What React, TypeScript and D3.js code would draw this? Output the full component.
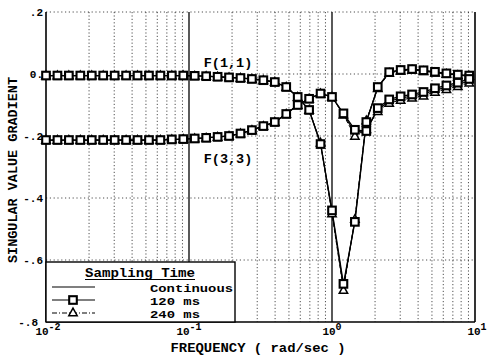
import React from 'react';
import * as d3 from 'd3';

const freq = [0.01, 0.01202, 0.01445, 0.01738, 0.02089, 0.02512, 0.0302, 0.03631, 0.04365, 0.05248,
  0.0631, 0.07586, 0.0912, 0.1096, 0.1318, 0.1585, 0.1905, 0.2291, 0.2754, 0.3311,
  0.3981, 0.4786, 0.5754, 0.6918, 0.8318, 1.0, 1.2023, 1.4454, 1.7378, 2.0893,
  2.5119, 3.02, 3.6308, 4.3652, 5.2481, 6.3096, 7.5858, 9.1201];

const f11Cont = [-0.005, -0.005, -0.005, -0.005, -0.005, -0.005, -0.005, -0.005, -0.005, -0.005,
  -0.005, -0.005, -0.005, -0.006, -0.007, -0.009, -0.011, -0.013, -0.016, -0.02,
  -0.026, -0.042, -0.074, -0.116, -0.224, -0.445, -0.687, -0.472, -0.152, -0.044,
  0.005, 0.012, 0.015, 0.011, 0.006, 0.001, -0.003, -0.006];
const f11Sq = [-0.005, -0.005, -0.005, -0.005, -0.005, -0.005, -0.005, -0.005, -0.005, -0.005,
  -0.005, -0.005, -0.005, -0.006, -0.007, -0.009, -0.011, -0.013, -0.016, -0.02,
  -0.026, -0.042, -0.074, -0.116, -0.226, -0.44, -0.677, -0.477, -0.155, -0.042,
  0.006, 0.013, 0.016, 0.012, 0.007, 0.002, -0.002, -0.005];
const f11Tri = [-0.005, -0.005, -0.005, -0.005, -0.005, -0.005, -0.005, -0.005, -0.005, -0.005,
  -0.005, -0.005, -0.005, -0.006, -0.007, -0.009, -0.011, -0.013, -0.016, -0.02,
  -0.026, -0.042, -0.074, -0.116, -0.222, -0.45, -0.697, -0.468, -0.15, -0.046,
  0.003, 0.01, 0.013, 0.009, 0.004, 0.0, -0.004, -0.007];

const f33Cont = [-0.213, -0.213, -0.213, -0.213, -0.213, -0.213, -0.213, -0.213, -0.213, -0.213,
  -0.213, -0.211, -0.21, -0.208, -0.206, -0.203, -0.2, -0.192, -0.181, -0.168,
  -0.155, -0.129, -0.1, -0.08, -0.063, -0.074, -0.129, -0.19, -0.18, -0.115,
  -0.088, -0.078, -0.071, -0.064, -0.052, -0.043, -0.034, -0.022];
const f33Sq = [-0.213, -0.213, -0.213, -0.213, -0.213, -0.213, -0.213, -0.213, -0.213, -0.213,
  -0.213, -0.211, -0.21, -0.208, -0.206, -0.203, -0.2, -0.192, -0.181, -0.168,
  -0.155, -0.129, -0.1, -0.08, -0.063, -0.074, -0.127, -0.18, -0.184, -0.11,
  -0.082, -0.072, -0.066, -0.058, -0.046, -0.037, -0.028, -0.016];
const f33Tri = [-0.213, -0.213, -0.213, -0.213, -0.213, -0.213, -0.213, -0.213, -0.213, -0.213,
  -0.213, -0.211, -0.21, -0.208, -0.206, -0.203, -0.2, -0.192, -0.181, -0.168,
  -0.155, -0.129, -0.1, -0.08, -0.063, -0.074, -0.132, -0.2, -0.178, -0.12,
  -0.094, -0.084, -0.077, -0.07, -0.058, -0.049, -0.04, -0.028];

const yTicks = [0.2, 0, -0.2, -0.4, -0.6, -0.8];
const yTickLabels = ['.2', '0.', '-.2', '-.4', '-.6', '-.8'];
const xDecades = [0.01, 0.1, 1, 10];
const xDecadeExp = ['-2', '-1', '0', '1'];
const legendLabels = ['Continuous', '120 ms', '240 ms'];
const legendTitle = 'Sampling Time';
const curveLabels = ['F(1,1)', 'F(3,3)'];
const xTitle = 'FREQUENCY ( rad/sec )';
const yTitle = 'SINGULAR VALUE GRADIENT';

const FONT = '"Liberation Mono", "DejaVu Sans Mono", monospace';

export default function App() {
  const W = 487, H = 357;
  const x = d3.scaleLog().domain([0.01, 10]).range([46, 475]);
  const y = d3.scaleLinear().domain([-0.8, 0.2]).range([322, 12]);
  const [x0, x1] = x.range();
  const [yb, yt] = y.range();

  const line = d3.line<number>().x((_, i) => x(freq[i])).y((d) => y(d));

  const minor: number[] = [];
  for (let e = -2; e < 1; e++) {
    for (let m = 2; m <= 9; m++) minor.push(m * Math.pow(10, e));
  }

  const sq = (cx: number, cy: number, k: string) => (
    <rect key={k} x={cx - 3.8} y={cy - 3.8} width={7.6} height={7.6} fill="#fff" stroke="#000" strokeWidth={2.1} />
  );
  const tri = (cx: number, cy: number, k: string) => (
    <path key={k} d={`M${cx},${cy - 4.4}L${cx + 4.2},${cy + 3.2}L${cx - 4.2},${cy + 3.2}Z`} fill="#fff" stroke="#000" strokeWidth={1.5} />
  );

  const legTop = y(-0.6) + 2;
  const legRight = 235;
  const rows = [287, 300, 313];
  const textRows = [292, 305, 318];

  return (
    <svg width={W} height={H} style={{ position: 'absolute', left: 0, top: 0, background: '#fff' }} fontFamily={FONT}>
      <rect x={0} y={0} width={W} height={H} fill="#fff" />
      {minor.map((m, i) => (
        <line key={'mv' + i} x1={x(m)} x2={x(m)} y1={yt} y2={yb} stroke="#222" strokeWidth={0.8} strokeDasharray="1.2,2.2" />
      ))}
      {xDecades.slice(1, 3).map((d, i) => (
        <line key={'dv' + i} x1={x(d)} x2={x(d)} y1={yt} y2={yb} stroke="#000" strokeWidth={1.3} />
      ))}
      {yTicks.slice(0, 5).map((t, i) => (
        <line key={'hg' + i} x1={x0} x2={x1} y1={y(t)} y2={y(t)} stroke="#222" strokeWidth={0.8} strokeDasharray="1.2,2.6" />
      ))}
      <line x1={x0} x2={x0} y1={yt} y2={yb} stroke="#000" strokeWidth={1.6} />
      <line x1={x1} x2={x1} y1={yt} y2={yb} stroke="#000" strokeWidth={1.6} />
      <line x1={x0} x2={x1} y1={yb} y2={yb} stroke="#000" strokeWidth={1.6} />

      {[f11Cont, f33Cont].map((s, i) => (
        <path key={'c' + i} d={line(s) || ''} fill="none" stroke="#000" strokeWidth={1.2} />
      ))}
      {[f11Sq, f33Sq].map((s, i) => (
        <path key={'s' + i} d={line(s) || ''} fill="none" stroke="#000" strokeWidth={1.3} />
      ))}
      {[f11Tri, f33Tri].map((s, i) => (
        <path key={'t' + i} d={line(s) || ''} fill="none" stroke="#000" strokeWidth={1} strokeDasharray="4,2" />
      ))}
      {[f11Tri, f33Tri].map((s, j) => s.map((v, i) => tri(x(freq[i]), y(v), `tm${j}-${i}`)))}
      {[f11Sq, f33Sq].map((s, j) => s.map((v, i) => sq(x(freq[i]), y(v), `sm${j}-${i}`)))}

      <text x={228} y={67} textAnchor="middle" fontSize={13.5} fontWeight="bold">{curveLabels[0]}</text>
      <text x={228} y={163} textAnchor="middle" fontSize={13.5} fontWeight="bold">{curveLabels[1]}</text>

      <rect x={x0} y={legTop} width={legRight - x0} height={yb - legTop} fill="#fff" stroke="#000" strokeWidth={1.4} />
      <text x={140} y={277} textAnchor="middle" fontSize={12.5} fontWeight="bold"
        textLength={110} lengthAdjust="spacingAndGlyphs">{legendTitle}</text>
      <line x1={85} x2={195} y1={279.5} y2={279.5} stroke="#000" strokeWidth={1} />
      <line x1={52} x2={95} y1={rows[0]} y2={rows[0]} stroke="#000" strokeWidth={1.2} />
      <line x1={52} x2={95} y1={rows[1]} y2={rows[1]} stroke="#000" strokeWidth={1.2} />
      {sq(73, rows[1], 'lsq')}
      <line x1={52} x2={95} y1={rows[2]} y2={rows[2]} stroke="#000" strokeWidth={1.1} strokeDasharray="5,2,1,2" />
      {tri(73, rows[2] - 0.5, 'ltri')}
      {legendLabels.map((l, i) => (
        <text key={'ll' + i} x={150} y={textRows[i]} fontSize={11} fontWeight="bold"
          textLength={i === 0 ? 83 : 50} lengthAdjust="spacingAndGlyphs">{l}</text>
      ))}

      {yTicks.map((t, i) => (
        <text key={'yl' + i} x={i === 5 ? 38 : 43} y={y(t) + 4} textAnchor="end" fontSize={11} fontWeight="bold">{yTickLabels[i]}</text>
      ))}
      {xDecades.map((d, i) => (
        <text key={'xl' + i} x={x(d) + (i === 3 ? 2 : i === 0 ? 2 : 0)} y={335} textAnchor="middle" fontSize={11} fontWeight="bold">
          10<tspan dy={-5} fontSize={10}>{xDecadeExp[i]}</tspan>
        </text>
      ))}
      <text x={258} y={352} textAnchor="middle" fontSize={13.5} fontWeight="bold" textLength={175} lengthAdjust="spacingAndGlyphs">{xTitle}</text>
      <text transform="translate(17,170) rotate(-90)" textAnchor="middle" fontSize={13.5} fontWeight="bold" textLength={186} lengthAdjust="spacingAndGlyphs">{yTitle}</text>
    </svg>
  );
}
